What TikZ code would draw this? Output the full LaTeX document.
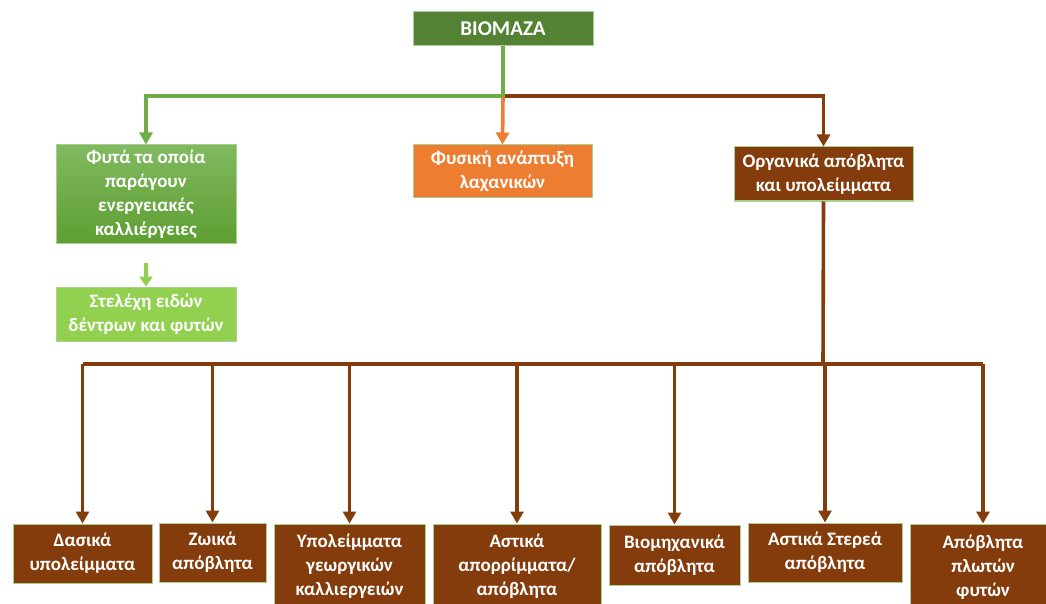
\documentclass[tikz,border=0pt]{standalone}
\usepackage{fontspec}
\setmainfont{Carlito}
\usetikzlibrary{arrows.meta}
\definecolor{darkgreen}{HTML}{548235}
\definecolor{midgreen}{HTML}{70AD47}
\definecolor{gradtop}{HTML}{80B95F}
\definecolor{gradbot}{HTML}{5E9E32}
\definecolor{lightgreen}{HTML}{92D050}
\definecolor{edgegreen}{HTML}{A9D18E}
\definecolor{orangefill}{HTML}{ED7D31}
\definecolor{brownfill}{HTML}{843C0C}
\tikzset{
  box/.style={draw=edgegreen, line width=1pt, text=white, align=center,
    inner sep=0pt, font=\bfseries\fontsize{19}{24}\selectfont},
  link/.style={line width=3.6pt},
  arr/.style={line width=3.6pt, -{Triangle[width=13pt,length=12pt]}},
}
\begin{document}
\begin{tikzpicture}[x=1pt,y=-1pt]
\useasboundingbox (0,0) rectangle (1046,604);
\clip (0,0) rectangle (1046,604);

% top level
\node[box, fill=darkgreen, minimum width=180, minimum height=34,
  font=\bfseries\fontsize{21}{24}\selectfont] (bio) at (503,29) {BIOMAZA};

% second level
\node[box, top color=gradtop, bottom color=gradbot, minimum width=180, minimum height=98]
  (plants) at (146,194) {Φυτά τα οποία\\παράγουν\\ενεργειακές\\καλλιέργειες};
\node[box, fill=lightgreen, minimum width=180, minimum height=54]
  (stems) at (146,314) {Στελέχη ειδών\\δέντρων και φυτών};
\node[box, fill=orangefill, minimum width=179, minimum height=53]
  (veg) at (502.5,171.5) {Φυσική ανάπτυξη\\λαχανικών};
\node[box, fill=brownfill, minimum width=179, minimum height=54]
  (org) at (823.5,174) {Οργανικά απόβλητα\\και υπολείμματα};

% third level
\node[box, fill=brownfill, minimum width=139, minimum height=59] (b1) at (82.5,553.5) {Δασικά\\υπολείμματα};
\node[box, fill=brownfill, minimum width=107, minimum height=59] (b2) at (212.5,552.5) {Ζωικά\\απόβλητα};
\node[box, fill=brownfill, minimum width=151, minimum height=84] (b3) at (349.5,566) {Υπολείμματα\\γεωργικών\\καλλιεργειών};
\node[box, fill=brownfill, minimum width=168, minimum height=84] (b4) at (517,566) {Αστικά\\απορρίμματα/\\απόβλητα};
\node[box, fill=brownfill, minimum width=131, minimum height=60] (b5) at (674.5,555) {Βιομηχανικά\\απόβλητα};
\node[box, fill=brownfill, minimum width=154, minimum height=59] (b6) at (825,552.5) {Αστικά Στερεά\\απόβλητα};
\node[box, fill=brownfill, minimum width=146, minimum height=86] (b7) at (983,567) {Απόβλητα\\πλωτών\\φυτών};

% junctions
\coordinate (split) at (503,96);
\coordinate (bus) at (823,364);
\coordinate (stemtop) at (146,263);

% connectors from the top box
\draw[arr, draw=brownfill] (split) -| (org.north);
\draw[arr, draw=orangefill] (split) -- (veg.north);
\draw[link, draw=midgreen] (bio.south) -- (split);
\draw[arr, draw=midgreen] (split) -| (plants.north);
\draw[arr, draw=lightgreen, -{Triangle[width=13pt,length=10pt]}] (stemtop) -- (stems.north);

% bus below the organic waste box
\draw[link, draw=brownfill] (org.south) -- (bus);
\draw[link, draw=brownfill] (b1.north |- bus) -- (b7.north |- bus);
\foreach \b in {b1,b2,b3,b4,b5,b6,b7}
  \draw[arr, draw=brownfill] (\b.north |- bus) -- (\b.north);
\end{tikzpicture}
\end{document}
